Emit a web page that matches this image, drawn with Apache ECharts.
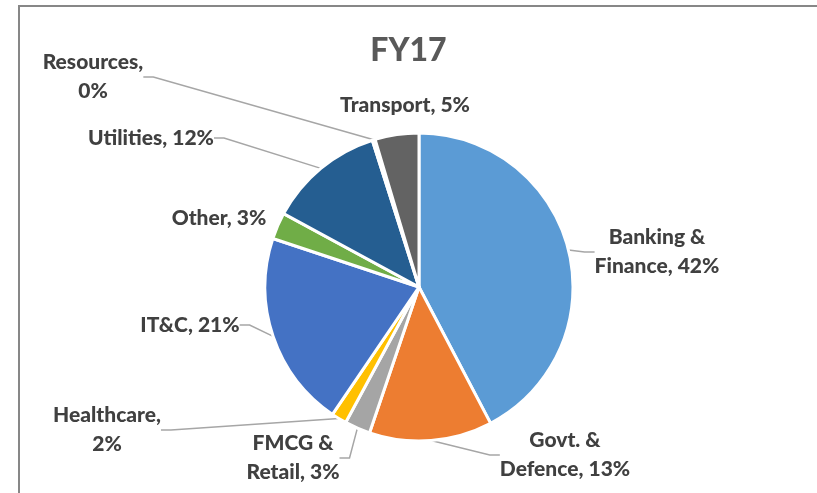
<!DOCTYPE html>
<html>
<head>
<meta charset="utf-8">
<script src="https://cdn.jsdelivr.net/npm/echarts@6/dist/echarts.min.js"></script>
<style>
html,body{margin:0;padding:0;background:#fff;overflow:hidden;}
#chart{width:817px;height:493px;}
</style>
</head>
<body>
<div id="chart"></div>
<script>
// ---- data ----
const titleText = 'FY17';
const categories = ['Banking & Finance', 'Govt. & Defence', 'FMCG & Retail', 'Healthcare', 'IT&C', 'Other', 'Utilities', 'Resources', 'Transport'];
const shares = [42.3, 12.9, 2.7, 1.6, 20.6, 2.8, 12.2, 0.3, 4.6];
const colors = ['#5B9BD5', '#ED7D31', '#A5A5A5', '#FFC000', '#4472C4', '#70AD47', '#255E91', '#9E480E', '#636363'];

// ---- label layout (styling, not data) ----
const labelBreak = ['& ', '& ', '& ', ', ', null, null, null, ', ', null];
const labelPos = [[657, 252], [565, 455], [293, 458], [107, 430], [190, 325], [219, 218], [151, 138], [93, 77], [405, 105]];
const showLine = [true, true, true, true, true, false, true, true, false];

const chart = echarts.init(document.getElementById('chart'), null, {renderer: 'canvas'});
const FONT = 'Lato, "Noto Sans", sans-serif';

chart.setOption({
  animation: false,
  backgroundColor: '#ffffff',
  title: {
    text: titleText,
    left: 'center',
    top: 30,
    textStyle: {fontFamily: FONT, fontSize: 32, fontWeight: 900, color: '#595959'}
  },
  graphic: [{
    type: 'polyline',
    shape: {points: [[19, 600], [19, 6], [1000, 6]]},
    style: {fill: null, stroke: '#878787', lineWidth: 2},
    silent: true
  }],
  series: [{
    type: 'pie',
    center: [419, 287],
    radius: 154,
    startAngle: 90,
    clockwise: true,
    avoidLabelOverlap: false,
    itemStyle: {borderColor: '#ffffff', borderWidth: 3},
    label: {
      show: true,
      position: 'outside',
      fontFamily: FONT,
      fontSize: 21,
      fontWeight: 900,
      color: '#404040',
      lineHeight: 29,
      formatter: function (p) {
        let t = p.name + ', ' + Math.round(p.value) + '%';
        const b = labelBreak[p.dataIndex];
        if (b) t = t.replace(b, b.trim() + '\n');
        return t;
      }
    },
    labelLine: {show: true, length: 15, length2: 10, lineStyle: {color: '#A6A6A6', width: 1.5}},
    labelLayout: function (params) {
      const pos = labelPos[params.dataIndex];
      return {x: pos[0], y: pos[1], align: 'center', verticalAlign: 'middle'};
    },
    data: categories.map(function (c, i) {
      return {
        name: c,
        value: shares[i],
        itemStyle: {color: colors[i]},
        labelLine: {show: showLine[i]}
      };
    })
  }]
});
</script>
</body>
</html>
